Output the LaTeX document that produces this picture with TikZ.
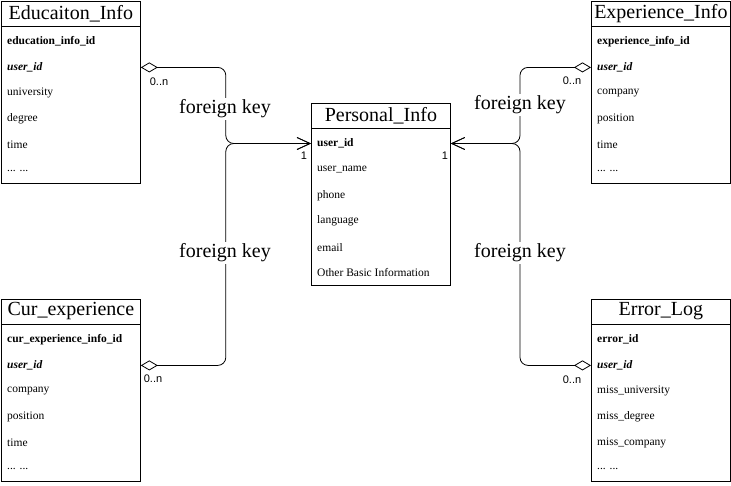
\documentclass[tikz,border=0pt]{standalone}
\usepackage{fontspec}
\setmainfont{Liberation Serif}
\newfontfamily\labelfont{Liberation Sans}
\usetikzlibrary{arrows.meta,positioning}
\newcommand{\moredots}{... ...}
\tikzstyle{tablebox} = [rectangle, draw, line width=0.8pt, minimum width=139pt, minimum height=182pt, anchor=north west, inner sep=0pt]
\tikzstyle{tabletitle} = [font=\fontsize{20}{24}\selectfont, inner sep=0pt]
\tikzstyle{field} = [font=\fontsize{11.5}{13}\selectfont, anchor=west, inner sep=0pt]
\tikzstyle{fk} = [line width=0.8pt, rounded corners=8pt, {Diamond[open,length=17pt,width=10pt]}-{Straight Barb[length=13pt,width=12pt]}]
\tikzstyle{fklabel} = [font=\fontsize{20}{24}\selectfont, fill=white, inner sep=2pt]
\tikzstyle{mult} = [font=\labelfont\fontsize{11}{13}\selectfont, inner sep=0pt]

\begin{document}
\begin{tikzpicture}[x=1pt, y=-1pt]
\useasboundingbox (0,0) rectangle (731,485);

% Tables
\node (edu) [tablebox] at (1,1) {};
\node (exp) [tablebox] at (591,1) {};
\node (per) [tablebox] at (311,103) {};
\node (cur) [tablebox] at (1,299) {};
\node (err) [tablebox] at (591,299) {};

% Titles
\foreach \t/\name in {edu/Educaiton\_Info, exp/Experience\_Info, per/Personal\_Info, cur/Cur\_experience, err/Error\_Log} {
  \node (\t-title) [tabletitle] at ([yshift=-12.5pt]\t.north) {\name};
  \draw[line width=0.8pt] ([yshift=-25pt]\t.north west) -- ([yshift=-25pt]\t.north east);
}

% Fields
\foreach \f [count=\i] in {{\textbf{education\_info\_id}}, {\textbf{\textit{user\_id}}}, university, degree, time, \moredots}
  \node (edu-\i) [field] at ([xshift=6pt, yshift={-14.6pt-25.9pt*\i}]edu.north west) {\f};
\foreach \f [count=\i] in {{\textbf{experience\_info\_id}}, {\textbf{\textit{user\_id}}}, company, position, time, \moredots}
  \node (exp-\i) [field] at ([xshift=6pt, yshift={-14.6pt-25.9pt*\i}]exp.north west) {\f};
\foreach \f [count=\i] in {{\textbf{user\_id}}, user\_name, phone, language, email, {Other Basic Information}}
  \node (per-\i) [field] at ([xshift=6pt, yshift={-14.6pt-25.9pt*\i}]per.north west) {\f};
\foreach \f [count=\i] in {{\textbf{cur\_experience\_info\_id}}, {\textbf{\textit{user\_id}}}, company, position, time, \moredots}
  \node (cur-\i) [field] at ([xshift=6pt, yshift={-14.6pt-25.9pt*\i}]cur.north west) {\f};
\foreach \f [count=\i] in {{\textbf{error\_id}}, {\textbf{\textit{user\_id}}}, miss\_university, miss\_degree, miss\_company, \moredots}
  \node (err-\i) [field] at ([xshift=6pt, yshift={-14.6pt-25.9pt*\i}]err.north west) {\f};

% Foreign keys
\draw[fk] (edu-2 -| edu.east) -- ++(85,0) |- (per-1 -| per.west);
\draw[fk] (cur-2 -| cur.east) -- ++(85,0) |- (per-1 -| per.west);
\draw[fk] (exp-2 -| exp.west) -- ++(-71,0) |- (per-1 -| per.east);
\draw[fk] (err-2 -| err.west) -- ++(-71,0) |- (per-1 -| per.east);

\node (fk-edu) [fklabel] at (225,109) {foreign key};
\node (fk-cur) [fklabel] at (225,253) {foreign key};
\node (fk-exp) [fklabel] at (520,105) {foreign key};
\node (fk-err) [fklabel] at (520,253) {foreign key};

% Multiplicities
\node (m-edu) [mult] at (159,81.5) {0..n};
\node (m-cur) [mult] at (153,379) {0..n};
\node (m-exp) [mult] at (572,81) {0..n};
\node (m-err) [mult] at (572,380) {0..n};
\node (m-perl) [mult] at (304,156) {1};
\node (m-perr) [mult] at (445,156) {1};
\end{tikzpicture}
\end{document}
